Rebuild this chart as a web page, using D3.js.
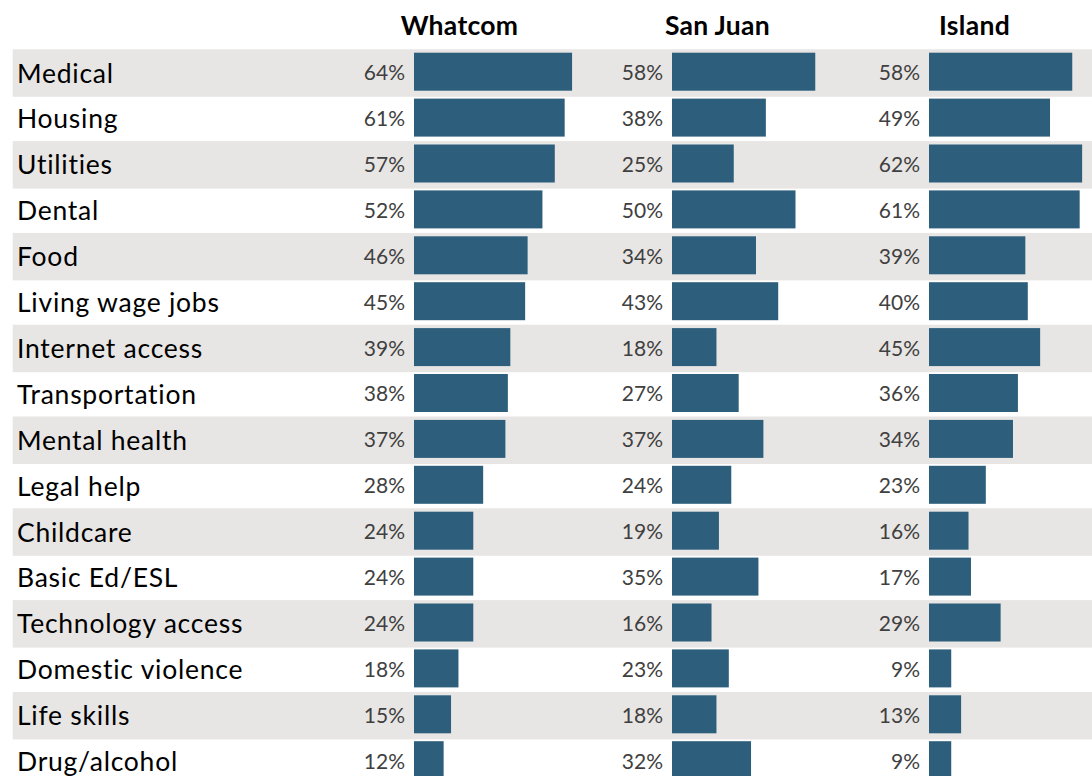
<!DOCTYPE html>
<html>
<head>
<meta charset="utf-8">
<script src="https://cdn.jsdelivr.net/npm/d3@7"></script>
<style>
  html, body { margin: 0; padding: 0; background: #fff; overflow: hidden; }
  svg { display: block; }
</style>
</head>
<body>
<script>
// Share of respondents reporting each need, by county (%)
const categories = [
  "Medical", "Housing", "Utilities", "Dental", "Food", "Living wage jobs",
  "Internet access", "Transportation", "Mental health", "Legal help",
  "Childcare", "Basic Ed/ESL", "Technology access", "Domestic violence",
  "Life skills", "Drug/alcohol"
];
const counties = ["Whatcom", "San Juan", "Island"];
const whatcom = [64, 61, 57, 52, 46, 45, 39, 38, 37, 28, 24, 24, 24, 18, 15, 12];
const sanJuan = [58, 38, 25, 50, 34, 43, 18, 27, 37, 24, 19, 35, 16, 23, 18, 32];
const island  = [58, 49, 62, 61, 39, 40, 45, 36, 34, 23, 16, 17, 29, 9, 13, 9];
const seriesValues = [whatcom, sanJuan, island];

const W = 1092, H = 776;
const svg = d3.select("body").append("svg").attr("width", W).attr("height", H);

const rowTop = 49.3, rowStep = 45.9;
const y = d3.scaleBand()
  .domain(categories)
  .range([rowTop, rowTop + rowStep * categories.length])
  .padding(0);

// Left edge of each county's bar column
const colX = d3.scaleOrdinal().domain(counties).range([414, 672, 929]);
// Bar length per percentage point
const x = d3.scaleLinear().domain([0, 100]).range([0, 247]);

const fontFamily = "Lato, 'Open Sans', sans-serif";
const barColor = "#2d5f7c";

// Alternating shaded rows
svg.append("g").selectAll("rect")
  .data(categories.filter((d, i) => i % 2 === 0))
  .join("rect")
  .attr("x", 12.7)
  .attr("y", d => y(d))
  .attr("width", W - 12.7)
  .attr("height", y.bandwidth() + 1.6)
  .attr("fill", "#e8e6e4");

// Category labels
svg.append("g").selectAll("text")
  .data(categories)
  .join("text")
  .attr("x", 17)
  .attr("y", d => y(d) + y.bandwidth() / 2 + 1)
  .attr("dy", "0.35em")
  .attr("font-family", fontFamily)
  .attr("font-size", 26.5)
  .attr("letter-spacing", 0.75)
  .attr("fill", "#000")
  .text(d => d);

// County headers
svg.append("g").selectAll("text")
  .data(counties)
  .join("text")
  .attr("x", d => colX(d) + 45.5)
  .attr("y", 35)
  .attr("text-anchor", "middle")
  .attr("font-family", fontFamily)
  .attr("font-weight", "bold")
  .attr("font-size", 26.5)
  .attr("letter-spacing", 0.3)
  .attr("fill", "#000")
  .text(d => d);

// Bars and value labels for each county
counties.forEach((county, ci) => {
  const vals = seriesValues[ci];
  const rows = categories.map((c, i) => ({ c, v: vals[i] }));
  const g = svg.append("g");

  g.selectAll("rect")
    .data(rows)
    .join("rect")
    .attr("x", colX(county))
    .attr("y", d => y(d.c) + 3.4)
    .attr("width", d => x(d.v))
    .attr("height", 38)
    .attr("fill", barColor);

  g.selectAll("text")
    .data(rows)
    .join("text")
    .attr("x", colX(county) - 9)
    .attr("y", d => y(d.c) + y.bandwidth() / 2 + 0.5)
    .attr("dy", "0.35em")
    .attr("text-anchor", "end")
    .attr("font-family", fontFamily)
    .attr("font-size", 21)
    .attr("fill", "#404040")
    .text(d => d.v + "%");
});
</script>
</body>
</html>
